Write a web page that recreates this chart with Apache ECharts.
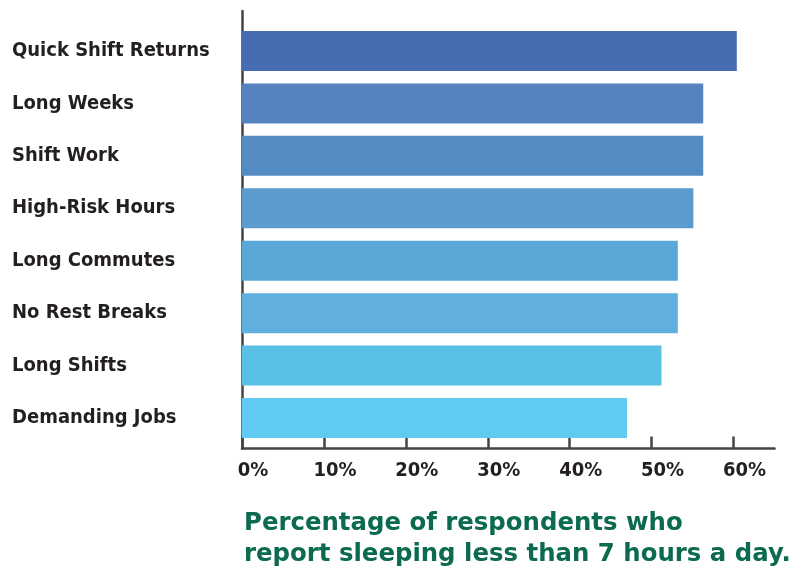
<!DOCTYPE html>
<html>
<head>
<meta charset="utf-8">
<script src="https://cdn.jsdelivr.net/npm/echarts@6/dist/echarts.min.js"></script>
<style>html,body{margin:0;padding:0;background:#fff}#c{width:802px;height:569px}</style>
</head>
<body>
<div id="c"></div>
<script>
const categories = ['Quick Shift Returns','Long Weeks','Shift Work','High-Risk Hours','Long Commutes','No Rest Breaks','Long Shifts','Demanding Jobs'];
const values = [60.4, 56.3, 56.3, 55.1, 53.2, 53.2, 51.2, 47.0];
const barColors = ['#466cb1','#5683c0','#558bc3','#5b9bce','#59a8d8','#61afdf','#59c0e6','#5fcbf2'];
const tickValues = [0, 10, 20, 30, 40, 50, 60];
const titleLines = ['Percentage of respondents who', 'report sleeping less than 7 hours a day.'];

const labelFont = '"DejaVu Sans Condensed","Liberation Sans Narrow",sans-serif';
const chart = echarts.init(document.getElementById('c'));
chart.setOption({
  animation: false,
  title: {
    text: titleLines.join('\n'),
    left: 239, top: 503,
    textStyle: { color: '#0b6a4f', fontSize: 24.4, fontWeight: 'bold', fontFamily: '"DejaVu Sans",sans-serif', lineHeight: 31 }
  },
  grid: [
    { left: 242, right: 27.5, top: 11, bottom: 120.5 },
    { left: 242, right: 27.5, top: 24.8, bottom: 124.8 }
  ],
  xAxis: [
    { gridIndex: 0, type: 'value', min: 0, max: 65,
      axisLine: { show: true, lineStyle: { color: '#444', width: 2.5 } },
      axisTick: { show: true, inside: true, length: 12, customValues: tickValues, lineStyle: { color: '#444', width: 2.5 } },
      axisLabel: { customValues: tickValues, formatter: v => v + '%', color: '#231f20', fontSize: 20, fontWeight: 'bold', fontFamily: labelFont, margin: 12, padding: [0,0,0,22] },
      splitLine: { show: false } },
    { gridIndex: 1, type: 'value', min: 0, max: 65, show: false }
  ],
  yAxis: [
    { gridIndex: 0, type: 'value', min: 0, max: 1,
      axisLine: { show: true, lineStyle: { color: '#444', width: 2.5 } },
      axisTick: { show: false }, axisLabel: { show: false }, splitLine: { show: false } },
    { gridIndex: 1, type: 'category', data: categories, inverse: true,
      axisLine: { show: false }, axisTick: { show: false },
      axisLabel: { align: 'left', margin: 230, color: '#231f20', fontSize: 20, fontWeight: 'bold', fontFamily: labelFont, padding: [3,0,0,0] } }
  ],
  series: [{
    type: 'bar', xAxisIndex: 1, yAxisIndex: 1,
    data: values.map((v, i) => ({ value: v, itemStyle: { color: barColors[i] } })),
    barWidth: 40
  }]
});
</script>
</body>
</html>
